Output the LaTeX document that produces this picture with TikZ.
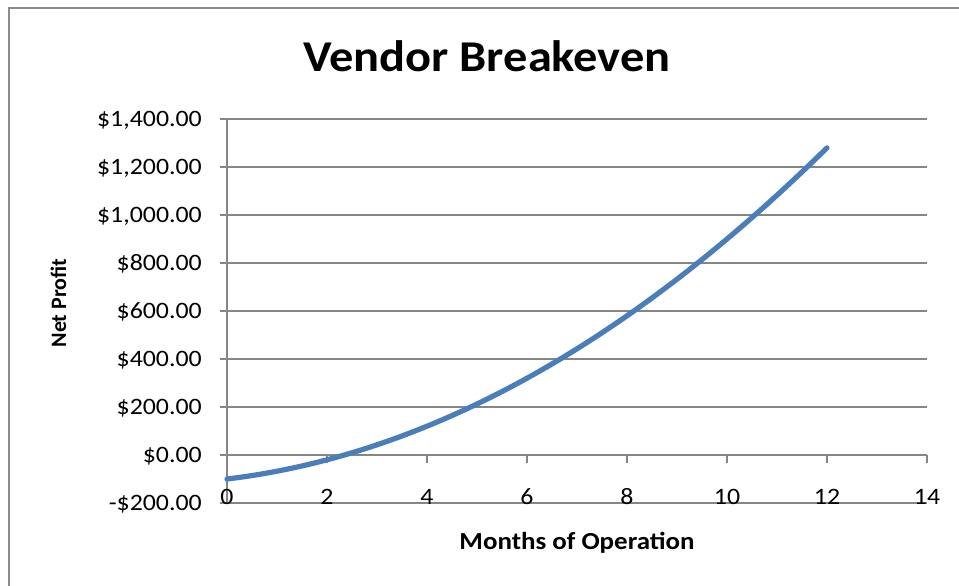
\documentclass[tikz,border=0pt]{standalone}
\usepackage{fontspec}
\setmainfont[FakeStretch=1.1]{Carlito}
\newfontfamily\plainfont{Carlito}
\definecolor{gridgray}{HTML}{868686}
\definecolor{bordergray}{HTML}{8C8C8C}
\definecolor{serieblue}{HTML}{4A7EBB}
\tikzset{
  gridline/.style={draw=gridgray, line width=1.8pt},
  axisline/.style={draw=gridgray, line width=1.8pt},
  ticklabel/.style={font=\fontsize{23.5}{28}\selectfont, inner sep=0pt},
  axistitle/.style={font=\fontsize{24.5}{29}\selectfont\bfseries, inner sep=0pt},
  serie/.style={draw=serieblue, line width=5.2pt, line cap=round, line join=round}
}
\begin{document}
\begin{tikzpicture}[x=1pt,y=-1pt]
\useasboundingbox (0,0) rectangle (959,586);
\fill[white] (0,0) rectangle (959,586);
\draw[draw=bordergray, line width=2.2pt] (9,586) -- (9,8) -- (959,8);
% gridlines
\foreach \k in {-1,...,7} {
  \draw[gridline] (220,{455-48*\k}) -- (927,{455-48*\k});
}
% axes
\draw[axisline] (227,120) -- (227,503);
\draw[axisline] (227,455) -- (927,455);
\foreach \k in {0,...,7} {
  \draw[axisline] ({227+100*\k},455) -- ({227+100*\k},463);
}
% y labels
\foreach \v/\t [count=\i from 0] in {-200/-\$200.00, 0/\$0.00, 200/\$200.00, 400/\$400.00, 600/\$600.00, 800/\$800.00, 1000/\$1{,}000.00, 1200/\$1{,}200.00, 1400/\$1{,}400.00} {
  \node[ticklabel, anchor=base east] (ylab\i) at (202,{455-0.24*\v+7.5}) {\t};
}
% x labels
\foreach \m [count=\i from 0] in {0,2,...,14} {
  \node[ticklabel, anchor=base] (xlab\i) at ({227+50*\m},504) {\m};
}
% series
\draw[serie] plot[domain=0:12, samples=80, smooth] ({227+50*\x},{455-0.24*(7.5*\x*\x+25*\x-100)});
% titles
\node[font=\fontsize{44}{52}\selectfont\bfseries, anchor=base, inner sep=0pt] (title) at (487,71) {Vendor Breakeven};
\node[axistitle, anchor=base] (xtitle) at (577,549) {Months of Operation};
\node[font=\plainfont\fontsize{22}{26}\selectfont\bfseries, rotate=90, anchor=base, inner sep=0pt] (ytitle) at (66,303) {Net Profit};
\end{tikzpicture}
\end{document}
